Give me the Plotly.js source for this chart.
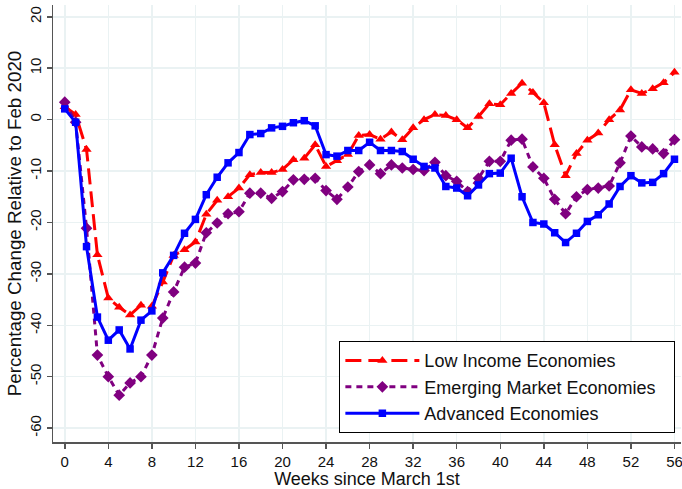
<!DOCTYPE html>
<html>
<head>
<meta charset="utf-8">
<script src="https://cdn.plot.ly/plotly-3.0.1.min.js"></script>
<style>html,body{margin:0;padding:0;background:#fff;}#chart{width:682px;height:489px;}</style>
</head>
<body>
<div id="chart"></div>
<script>
const weeks = [0,1,2,3,4,5,6,7,8,9,10,11,12,13,14,15,16,17,18,19,20,21,22,23,24,25,26,27,28,29,30,31,32,33,34,35,36,37,38,39,40,41,42,43,44,45,46,47,48,49,50,51,52,53,54,55,56];

const lowIncome = [2.5,1.0,-5.8,-26.3,-34.7,-36.5,-38.0,-36.1,-36.3,-31.6,-26.4,-25.3,-23.8,-18.4,-15.7,-15.0,-13.3,-10.7,-10.3,-10.3,-9.7,-7.8,-7.5,-4.9,-9.1,-8.0,-6.8,-3.1,-2.9,-3.8,-2.4,-3.9,-1.6,0.0,1.0,0.8,0.0,-1.6,0.6,3.1,2.9,5.1,7.1,5.3,3.3,-4.9,-10.9,-6.6,-4.0,-2.6,0.0,1.9,5.8,5.1,6.0,7.2,9.2];

const emerging = [3.4,-0.5,-21.1,-45.8,-50.0,-53.6,-51.2,-50.0,-45.8,-38.6,-33.5,-28.7,-27.9,-22.0,-20.1,-18.3,-17.9,-14.3,-14.3,-15.3,-14.0,-11.7,-11.6,-11.4,-13.8,-15.5,-13.1,-10.1,-8.8,-10.5,-8.8,-9.4,-9.7,-9.9,-8.3,-10.9,-12.0,-14.0,-11.4,-8.1,-8.1,-4.0,-3.8,-9.2,-11.4,-15.5,-18.3,-15.0,-13.6,-13.3,-12.9,-8.4,-3.2,-5.3,-5.7,-6.6,-3.9];

const advanced = [2.1,-0.5,-24.7,-38.4,-42.9,-40.9,-44.6,-39.0,-37.2,-29.8,-26.4,-22.1,-19.4,-14.6,-11.2,-8.4,-6.4,-2.9,-2.7,-1.6,-1.3,-0.6,-0.2,-1.2,-6.8,-7.1,-6.0,-6.0,-4.4,-6.0,-6.0,-6.2,-7.7,-9.1,-9.4,-13.0,-13.3,-14.8,-12.7,-10.5,-10.4,-7.5,-15.0,-20.0,-20.3,-22.0,-23.9,-22.1,-19.8,-18.5,-16.4,-13.0,-10.9,-12.3,-12.2,-10.5,-7.7];

const seriesNames = ["Low Income Economies","Emerging Market Economies","Advanced Economies"];
const xTicks = [0,4,8,12,16,20,24,28,32,36,40,44,48,52,56];
const yTicks = [-60,-50,-40,-30,-20,-10,0,10,20];

const font = "Liberation Sans, Arial, Helvetica, sans-serif";

const traces = [
  {x: weeks, y: lowIncome, name: seriesNames[0], type: "scatter", mode: "lines+markers",
   line: {color: "#ff0000", width: 3, dash: "16px,7px"},
   marker: {symbol: "triangle-up", size: 9, color: "#ff0000"}},
  {x: weeks, y: emerging, name: seriesNames[1], type: "scatter", mode: "lines+markers",
   line: {color: "#800080", width: 3, dash: "6px,5px"},
   marker: {symbol: "diamond", size: 9, color: "#800080"}},
  {x: weeks, y: advanced, name: seriesNames[2], type: "scatter", mode: "lines+markers",
   line: {color: "#0000ff", width: 3},
   marker: {symbol: "square", size: 7.5, color: "#0000ff"}}
];

const layout = {
  width: 682, height: 489,
  margin: {l: 53, r: 1, t: 5, b: 47},
  paper_bgcolor: "#ffffff", plot_bgcolor: "#ffffff",
  font: {family: font, size: 15, color: "#111"},
  showlegend: true,
  legend: {x: 0.456, y: 0.02, xanchor: "left", yanchor: "bottom",
    orientation: "h", entrywidth: 245, entrywidthmode: "pixels",
    bordercolor: "#000", borderwidth: 1, bgcolor: "#fff",
    font: {family: font, size: 18, color: "#111"},
    itemwidth: 74, tracegroupgap: 0},
  xaxis: {range: [-1.08, 56.6], tickvals: xTicks, ticktext: xTicks.map(String),
    automargin: false, ticklabeloverflow: "allow",
    showgrid: true, gridcolor: "#eaf2f3", gridwidth: 1.5, zeroline: false,
    showline: true, linecolor: "#555", linewidth: 1.5,
    ticks: "outside", ticklen: 5, tickcolor: "#555", tickwidth: 1.5,
    tickfont: {family: font, size: 15, color: "#111"},
    title: {text: "Weeks since March 1st", font: {family: font, size: 18, color: "#111"}, standoff: 2}},
  yaxis: {range: [-62.7, 22.3], tickvals: yTicks, ticktext: yTicks.map(String),
    automargin: false,
    showgrid: true, gridcolor: "#eaf2f3", gridwidth: 1.5, zeroline: false,
    showline: true, linecolor: "#555", linewidth: 1.5,
    ticks: "outside", ticklen: 5, tickcolor: "#555", tickwidth: 1.5, tickangle: -90,
    tickfont: {family: font, size: 15, color: "#111"},
    title: {text: "Percentage Change Relative to Feb 2020", font: {family: font, size: 18.8, color: "#111"}, standoff: 0}}
};

Plotly.newPlot("chart", traces, layout, {displayModeBar: false, staticPlot: true});
</script>
</body>
</html>
